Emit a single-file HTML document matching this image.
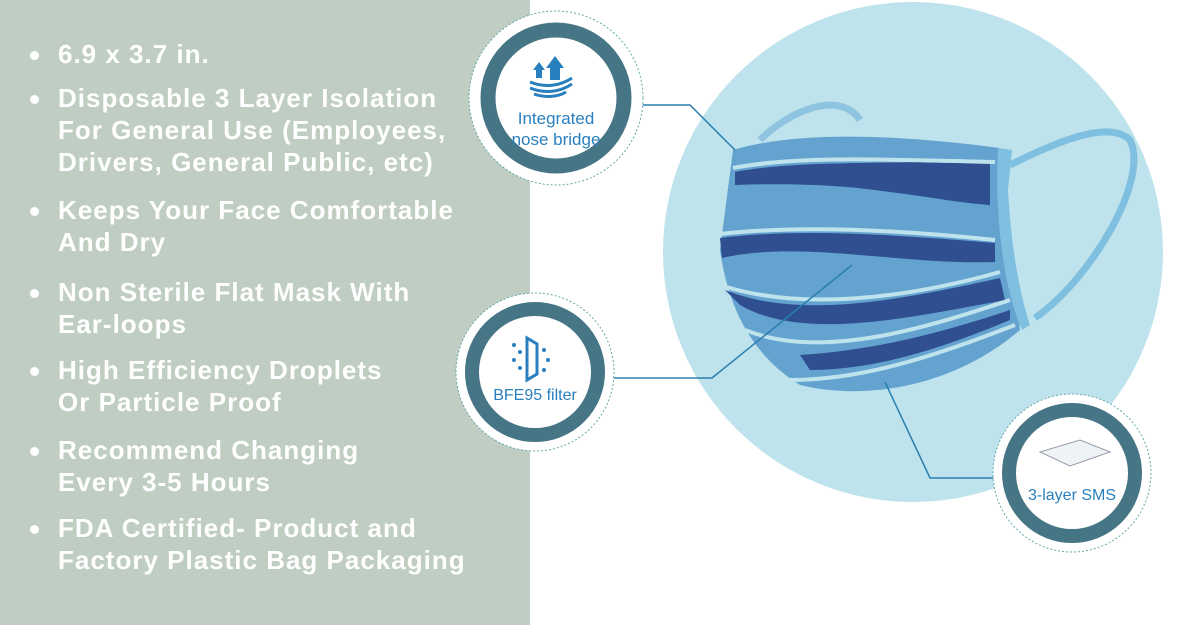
<!DOCTYPE html>
<html><head><style>
body{margin:0;width:1179px;height:625px;overflow:hidden;background:#fff;font-family:"Liberation Sans",sans-serif}
.panel{position:absolute;left:0;top:0;width:530px;height:625px;background:#bfcdc2}
ul{position:absolute;left:0;top:0;margin:0;padding:0;list-style:none;color:#fff;font-size:26px;font-weight:bold;line-height:32px;letter-spacing:1px}
li{position:absolute;left:58px;white-space:nowrap}
li:before{content:"";position:absolute;left:-28px;top:13px;width:9px;height:9px;border-radius:50%;background:#fff}
</style></head><body>
<div class="panel"></div>
<ul>
<li style="top:38px">6.9 x 3.7 in.</li>
<li style="top:82px">Disposable 3 Layer Isolation<br>For General Use (Employees,<br>Drivers, General Public, etc)</li>
<li style="top:194px">Keeps Your Face Comfortable<br>And Dry</li>
<li style="top:276px">Non Sterile Flat Mask With<br>Ear-loops</li>
<li style="top:354px">High Efficiency Droplets<br>Or Particle Proof</li>
<li style="top:434px">Recommend Changing<br>Every 3-5 Hours</li>
<li style="top:512px">FDA Certified- Product and<br>Factory Plastic Bag Packaging</li>
</ul>
<svg width="1179" height="625" style="position:absolute;left:0;top:0">
<circle cx="913" cy="252" r="250" fill="#bfe3ec"/>
<path d="M760 140 C790 110 840 90 860 120" fill="none" stroke="#8ec4df" stroke-width="7"/>
<path d="M1010 165 C1060 140 1110 120 1130 140 C1150 180 1090 280 1035 318" fill="none" stroke="#7fbfe0" stroke-width="7"/>
<path d="M733 150 C800 130 900 135 1000 148 L1020 330 C950 390 860 400 800 385 C760 360 730 320 720 250 Z" fill="#64a3d0"/>
<path d="M735 172 C800 160 880 165 990 160 L990 205 C920 200 870180 735 185Z" fill="#2f4f90"/>
<path d="M735 172 C800 160 880 165 990 160 L990 205 C920 200 870 180 735 185Z" fill="#2f4f90"/>
<path d="M720 238 C800 228 900 235 995 243 L995 262 C900 265 800 240 722 258Z" fill="#2f4f90"/>
<path d="M725 290 C800 320 900 300 1000 278 L1005 300 C900 320 800 340 740 305Z" fill="#2f4f90"/>
<path d="M800 355 C880 350 950 330 1010 310 L1010 320 C950 345 880 370 810 370Z" fill="#2f4f90"/>
<g fill="none" stroke="#bfe3ec" stroke-width="4">
<path d="M733 168 C800 155 900 160 995 162"/>
<path d="M720 234 C800 225 900 230 995 240"/>
<path d="M723 286 C800 310 900 300 1000 272"/>
<path d="M745 330 C820 360 920 330 1010 300"/>
<path d="M790 380 C870 380 950 350 1015 325"/>
</g>
<path d="M998 148 L1012 150 L1008 190 C1012 260 1022 300 1030 325 L1022 330 C1000 280 995 200 998 148Z" fill="#7fbfe0"/>
<g fill="none" stroke="#2a7fae" stroke-width="1.5">
<polyline points="630,105 690,105 735,150"/>
<polyline points="605,378 712,378 852,265"/>
<polyline points="885,382 930,478 1000,478"/>
</g>
<g>
<circle cx="556" cy="98" r="87" fill="#fff" stroke="#6aa" stroke-width="1" stroke-dasharray="2 2"/>
<circle cx="556" cy="98" r="68" fill="#fff" stroke="#467585" stroke-width="15"/>
<path d="M533 70 l6-8 6 8h-3v8h-6v-8zM546 68 l9-12 9 12h-4v12h-10v-12z" fill="#2a7fbe"/>
<path d="M530 82 C545 88 560 86 572 78 M530 88 C545 94 560 92 572 84 M534 94 C545 98 558 97 566 92" stroke="#2a7fbe" stroke-width="3" fill="none"/>
<text x="556" y="124" text-anchor="middle" font-size="17" fill="#2a7fbe">Integrated</text>
<text x="556" y="145" text-anchor="middle" font-size="17" fill="#2a7fbe">nose bridge</text>
</g>
<g>
<circle cx="535" cy="372" r="79" fill="#fff" stroke="#6aa" stroke-width="1" stroke-dasharray="2 2"/>
<circle cx="535" cy="372" r="63" fill="#fff" stroke="#467585" stroke-width="14"/>
<path d="M527 338 v42 l10 -6 v-30z" fill="none" stroke="#2a7fbe" stroke-width="3"/>
<g fill="#2a7fbe"><circle cx="514" cy="345" r="2"/><circle cx="520" cy="352" r="2"/><circle cx="514" cy="360" r="2"/><circle cx="520" cy="368" r="2"/><circle cx="544" cy="350" r="2"/><circle cx="548" cy="360" r="2"/><circle cx="544" cy="370" r="2"/></g>
<text x="535" y="400" text-anchor="middle" font-size="16" fill="#2a7fbe">BFE95 filter</text>
</g>
<g>
<circle cx="1072" cy="473" r="79" fill="#fff" stroke="#6aa" stroke-width="1" stroke-dasharray="2 2"/>
<circle cx="1072" cy="473" r="63" fill="#fff" stroke="#467585" stroke-width="14"/>
<path d="M1040 452 l40 -12 30 12 -40 14z" fill="#eef3f5" stroke="#99a" stroke-width="1"/>
<text x="1072" y="500" text-anchor="middle" font-size="16" fill="#2a7fbe">3-layer SMS</text>
</g>
</svg>
</body></html>
